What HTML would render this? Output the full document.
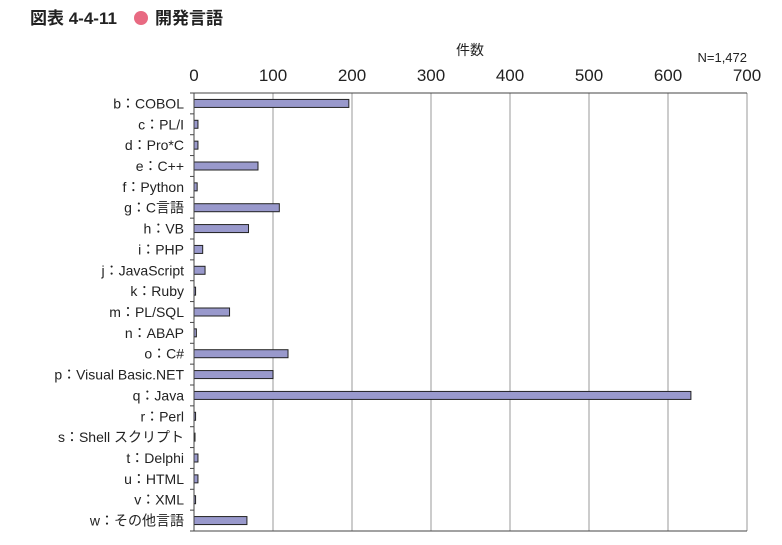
<!DOCTYPE html>
<html><head><meta charset="utf-8"><style>
body{margin:0;background:#fff;}
svg text{font-family:"Liberation Sans","Noto Sans CJK JP",sans-serif;fill:#222;}
</style></head><body>
<svg id="chart" width="782" height="540" xmlns="http://www.w3.org/2000/svg">
<text x="30" y="24" font-size="17" font-weight="bold">図表 4-4-11</text>
<circle cx="141" cy="18" r="7" fill="#e86a82"/>
<text x="155" y="24" font-size="17" font-weight="bold">開発言語</text>
<text x="470" y="55" font-size="14" text-anchor="middle">件数</text>
<text x="747" y="62" font-size="13" text-anchor="end">N=1,472</text>
<g id="grid"></g><g id="bars"></g><g id="axes"></g>
</svg>
<script>
const categories=["b：COBOL","c：PL/I","d：Pro*C","e：C++","f：Python","g：C言語","h：VB","i：PHP","j：JavaScript","k：Ruby","m：PL/SQL","n：ABAP","o：C#","p：Visual Basic.NET","q：Java","r：Perl","s：Shell スクリプト","t：Delphi","u：HTML","v：XML","w：その他言語"];
const values=[196,5,5,81,4,108,69,11,14,2,45,3,119,100,629,2,1,5,5,2,67];
const ticks=[0,100,200,300,400,500,600,700];
const NS="http://www.w3.org/2000/svg";
const x0=194,x1=747,y0=93,y1=531,xmax=700;
const xs=v=>x0+(v/xmax)*(x1-x0);
const band=(y1-y0)/categories.length;
const ys=i=>y0+band*i;
function mk(t,a,p){const e=document.createElementNS(NS,t);for(const k in a)e.setAttribute(k,a[k]);p.appendChild(e);return e;}
const grid=document.getElementById('grid'),bars=document.getElementById('bars'),axes=document.getElementById('axes');
ticks.forEach(t=>{
 if(t>0){const g=mk('line',{x1:xs(t),x2:xs(t),y1:y0,y2:y1,stroke:'#aaa','stroke-width':1.2},grid);
 
 }
 const l=mk('text',{x:xs(t),y:y0-12,'font-size':17,'text-anchor':'middle'},axes);l.textContent=t;
 
 
});
mk('line',{x1:x0,x2:x1,y1:y0,y2:y0,stroke:'#444','stroke-width':1},axes);
mk('line',{x1:x0,x2:x0,y1:y0,y2:y1,stroke:'#444','stroke-width':1},axes);
mk('line',{x1:x0,x2:x1,y1:y1,y2:y1,stroke:'#444','stroke-width':1},axes);
for(let i=0;i<=categories.length;i++){mk('line',{x1:x0-4,x2:x0,y1:ys(i),y2:ys(i),stroke:'#444'},axes);}
categories.forEach((c,i)=>{
 const cy=ys(i)+band/2;
 const r=mk('rect',{x:x0,y:cy-4,width:Math.max(xs(values[i])-x0,1),height:8,fill:'#9999cc',stroke:'#222','stroke-width':1},bars);
 
 
 const t=mk('text',{x:184,y:cy+5,'font-size':14,'text-anchor':'end'},axes);t.textContent=c;
 
 
});
</script>
</body></html>
